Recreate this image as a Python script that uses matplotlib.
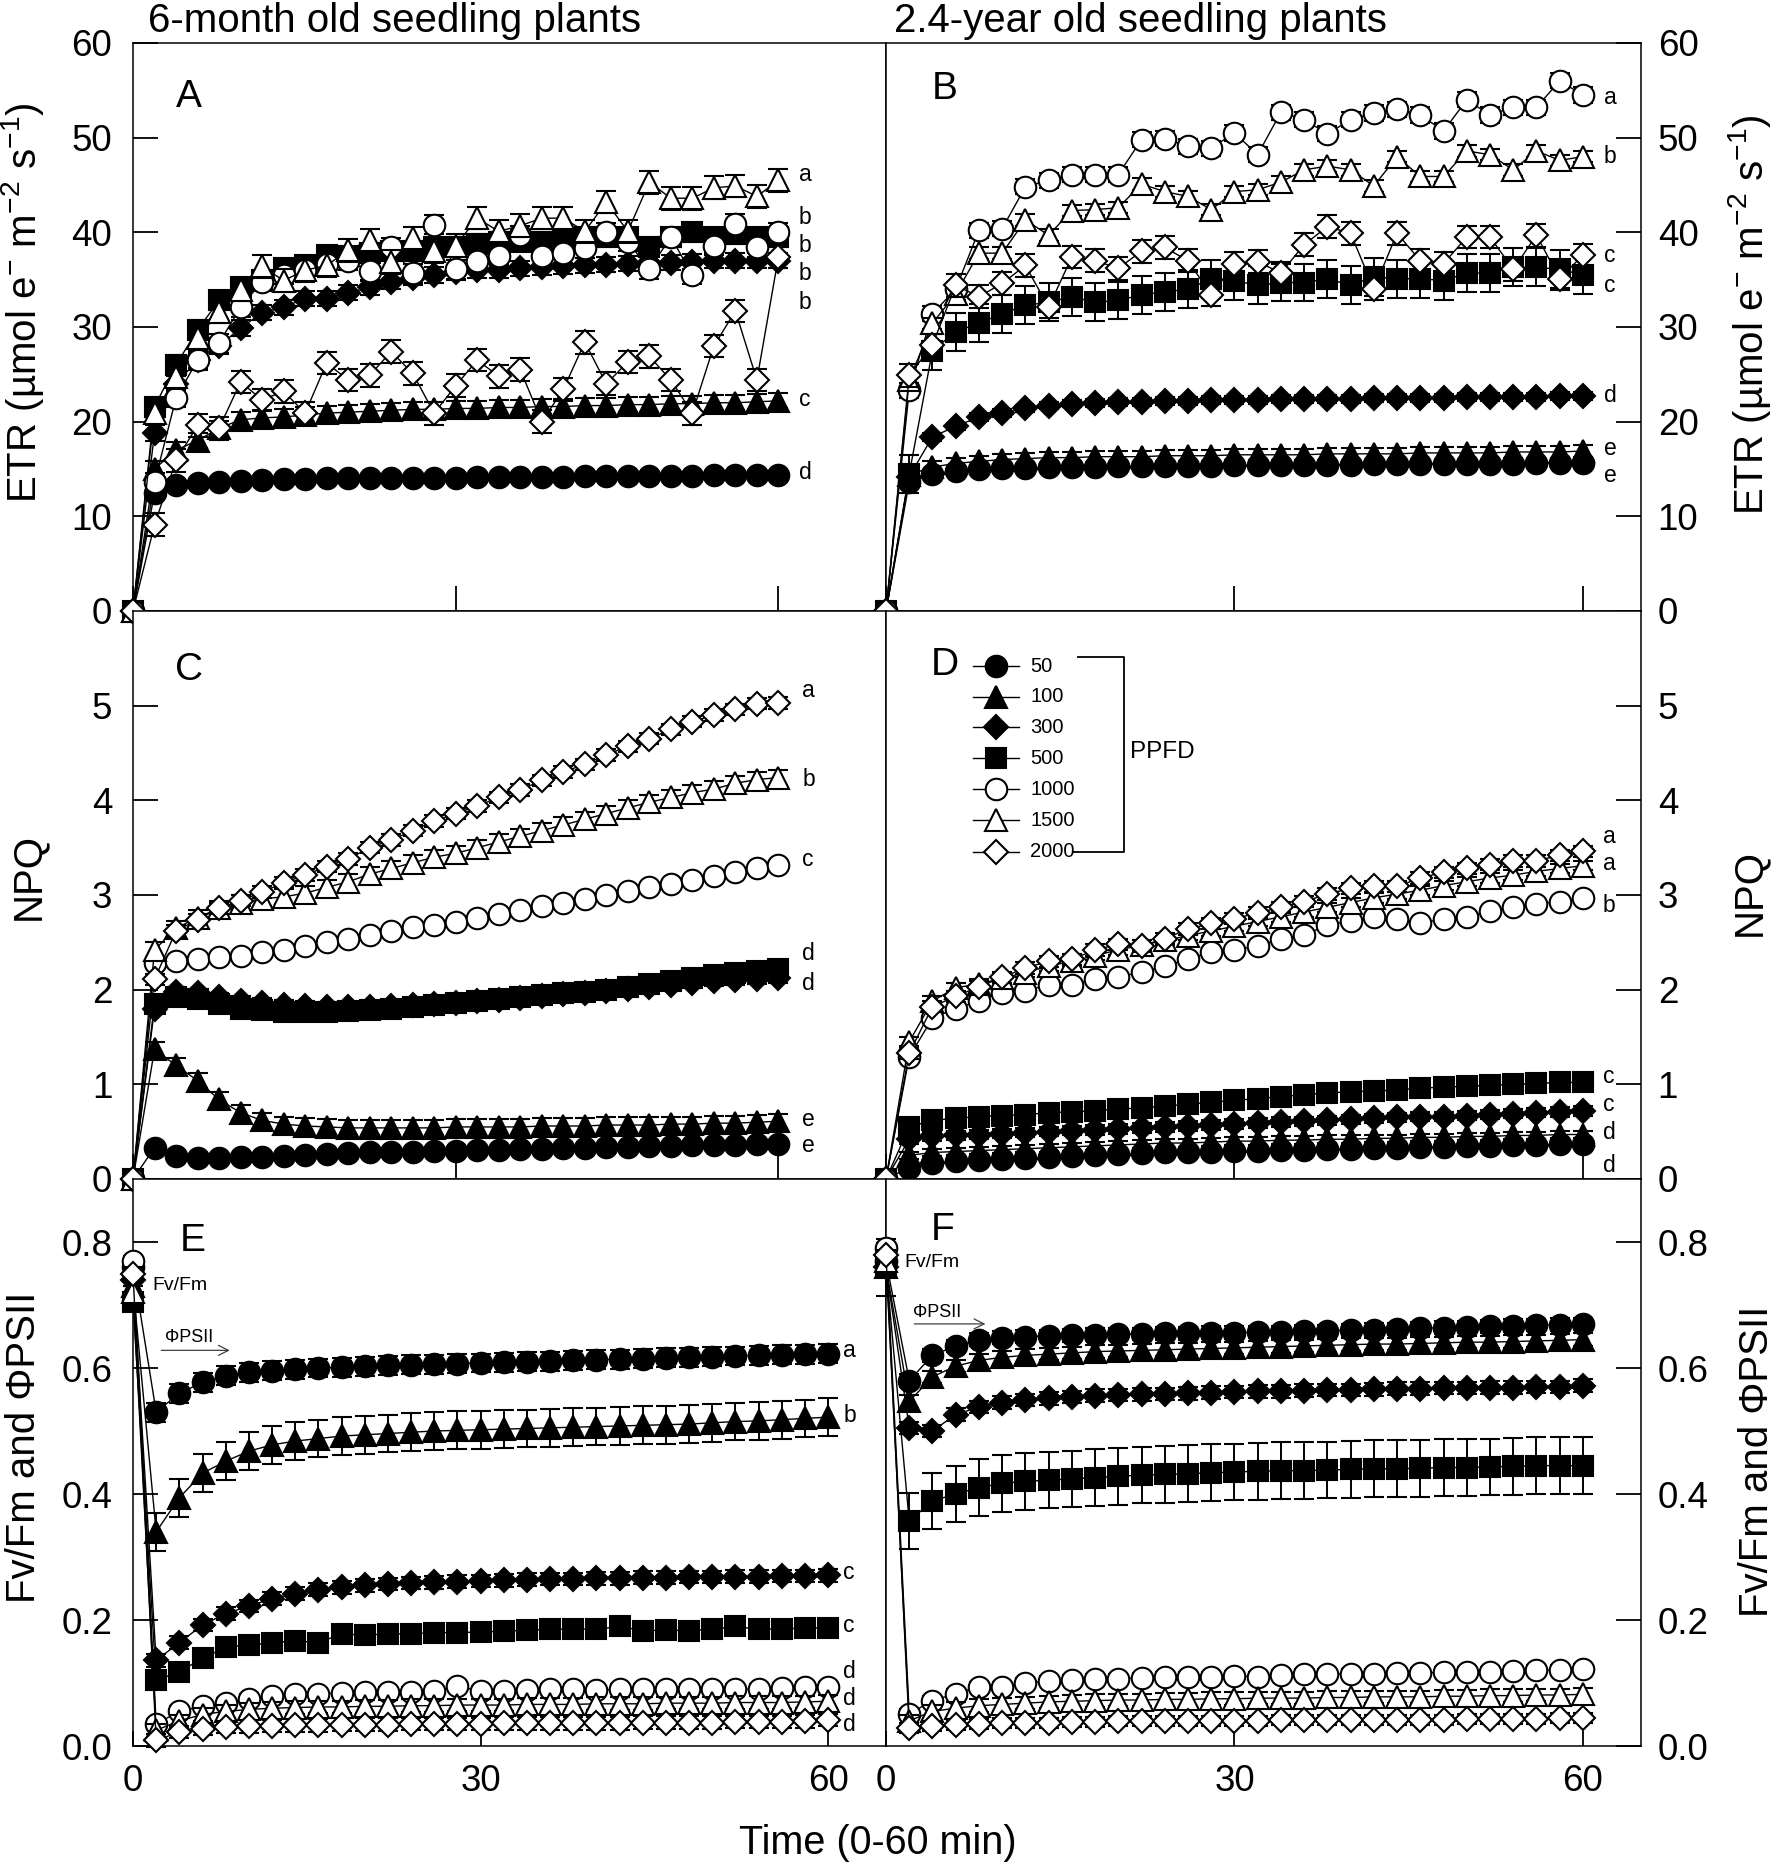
import matplotlib
matplotlib.use('Agg')
import matplotlib.pyplot as plt
import numpy as np
from matplotlib.ticker import FormatStrFormatter

plt.rcParams['font.family'] = ['Liberation Sans', 'DejaVu Sans']
plt.rcParams['mathtext.fontset'] = 'custom'
plt.rcParams['mathtext.rm'] = 'Liberation Sans'
plt.rcParams['mathtext.it'] = 'Liberation Sans:italic'

# ---------------- data ----------------
TIME = [0, 2, 4, 6, 8, 10, 12, 14, 16, 18, 20, 22, 24, 26, 28, 30,
        32, 34, 36, 38, 40, 42, 44, 46, 48, 50, 52, 54, 56, 58, 60]
PPFD = ['50', '100', '300', '500', '1000', '1500', '2000']

# Panel A: ETR, 6-month old seedlings
A_50 = [0, 12.5, 13.3, 13.5, 13.6, 13.7, 13.8, 13.9, 13.9, 14.0, 14.0, 14.0, 14.1, 14.1, 14.1, 14.1, 14.2, 14.2, 14.2, 14.2, 14.2, 14.3, 14.3, 14.3, 14.3, 14.3, 14.3, 14.4, 14.4, 14.4, 14.4]
A_100 = [0, 15.0, 17.0, 18.0, 19.3, 20.2, 20.4, 20.5, 20.7, 20.9, 21.0, 21.1, 21.2, 21.3, 21.3, 21.4, 21.4, 21.5, 21.5, 21.6, 21.6, 21.7, 21.7, 21.8, 21.8, 21.9, 21.9, 22.0, 22.0, 22.1, 22.2]
A_300 = [0, 18.8, 24.0, 26.5, 28.0, 29.9, 31.5, 32.1, 33.0, 33.0, 33.6, 34.2, 34.8, 35.2, 35.5, 35.8, 36.0, 36.0, 36.2, 36.3, 36.4, 36.5, 36.6, 36.7, 36.8, 36.8, 36.9, 37.0, 37.0, 37.0, 37.0]
A_500 = [0, 21.6, 26.0, 29.7, 32.8, 34.2, 35.0, 36.2, 36.5, 37.6, 37.5, 37.8, 38.0, 38.0, 38.5, 38.5, 38.8, 39.0, 39.0, 39.0, 39.3, 39.5, 39.5, 39.5, 38.5, 39.5, 40.0, 39.5, 39.8, 39.5, 39.5]
A_1000 = [0, 13.6, 22.5, 26.5, 28.3, 32.1, 34.8, 35.5, 36.0, 36.7, 37.0, 35.9, 38.4, 35.7, 40.8, 36.1, 37.0, 37.5, 39.7, 37.5, 37.8, 38.3, 40.0, 39.0, 36.1, 39.5, 35.5, 38.6, 40.9, 38.4, 40.0]
A_1500 = [0, 20.9, 24.7, 28.8, 31.6, 33.9, 36.4, 34.9, 36.0, 36.5, 38.1, 39.2, 36.9, 39.4, 38.0, 38.6, 41.5, 40.1, 40.7, 41.5, 41.5, 40.1, 43.2, 40.1, 45.3, 43.6, 43.6, 44.7, 44.9, 43.8, 45.5]
A_2000 = [0, 9.1, 15.9, 19.6, 19.3, 24.2, 22.3, 23.2, 20.9, 26.2, 24.4, 24.9, 27.4, 25.1, 20.9, 23.8, 26.5, 24.8, 25.5, 20.0, 23.4, 28.4, 24.0, 26.3, 26.9, 24.4, 20.9, 28.0, 31.7, 24.4, 37.4]
ERR_A = [0.3, 0.8, 0.8, 1.0, 1.0, 1.2, 1.2]
LET_A = ['a', 'b', 'b', 'b', 'b', 'c', 'd']
LET_A_Y = [46.1, 41.6, 38.6, 35.6, 32.6, 22.3, 14.6]

# Panel B: ETR, 2.4-year old seedlings
B_50 = [0, 13.6, 14.5, 14.8, 15.0, 15.1, 15.1, 15.2, 15.2, 15.2, 15.3, 15.3, 15.3, 15.3, 15.3, 15.4, 15.4, 15.4, 15.4, 15.4, 15.4, 15.5, 15.5, 15.5, 15.5, 15.5, 15.5, 15.5, 15.6, 15.6, 15.6]
B_100 = [0, 14.4, 15.2, 15.6, 15.8, 16.0, 16.1, 16.2, 16.2, 16.3, 16.3, 16.3, 16.4, 16.4, 16.4, 16.5, 16.5, 16.5, 16.5, 16.6, 16.6, 16.6, 16.6, 16.7, 16.7, 16.7, 16.7, 16.8, 16.8, 16.8, 16.9]
B_300 = [0, 14.2, 18.4, 19.5, 20.5, 20.9, 21.4, 21.7, 21.9, 22.0, 22.1, 22.1, 22.2, 22.2, 22.3, 22.3, 22.3, 22.4, 22.4, 22.4, 22.4, 22.5, 22.5, 22.5, 22.5, 22.6, 22.6, 22.6, 22.6, 22.7, 22.7]
B_500 = [0, 14.5, 27.5, 29.5, 30.4, 31.4, 32.3, 32.6, 33.2, 32.6, 32.8, 33.4, 33.7, 34.0, 35.1, 34.9, 34.4, 34.7, 34.7, 35.1, 34.4, 35.3, 35.1, 35.1, 34.9, 35.7, 35.7, 36.3, 36.3, 36.1, 35.5]
B_1000 = [0, 23.3, 31.4, 34.0, 40.2, 40.4, 44.8, 45.5, 46.1, 46.1, 46.1, 49.8, 49.9, 49.1, 48.9, 50.5, 48.2, 52.7, 51.9, 50.4, 51.9, 52.6, 53.0, 52.4, 50.7, 54.0, 52.4, 53.2, 53.2, 56.0, 54.5]
B_1500 = [0, 24.4, 30.4, 33.5, 37.8, 37.8, 41.3, 39.7, 42.3, 42.4, 42.6, 45.1, 44.3, 43.8, 42.4, 44.3, 44.5, 45.3, 46.6, 47.0, 46.6, 44.9, 48.0, 45.9, 45.9, 48.6, 48.2, 46.6, 48.6, 47.6, 48.0]
B_2000 = [0, 24.9, 28.1, 34.4, 33.2, 34.6, 36.5, 32.1, 37.4, 37.0, 36.2, 38.0, 38.4, 37.0, 33.4, 36.7, 36.9, 35.7, 38.7, 40.6, 39.9, 34.0, 39.9, 37.0, 36.7, 39.5, 39.5, 36.1, 39.7, 35.1, 37.6]
ERR_B = [0.4, 0.6, 0.4, 2.0, 0.8, 0.6, 1.2]
LET_B = ['a', 'b', 'c', 'c', 'd', 'e', 'e']
LET_B_Y = [54.2, 48.0, 37.6, 34.4, 22.8, 17.2, 14.3]

# Panel C: NPQ, 6-month old seedlings
C_50 = [0, 0.33, 0.24, 0.22, 0.22, 0.23, 0.23, 0.24, 0.25, 0.26, 0.27, 0.28, 0.28, 0.29, 0.30, 0.30, 0.31, 0.31, 0.32, 0.32, 0.33, 0.33, 0.34, 0.34, 0.35, 0.35, 0.36, 0.36, 0.36, 0.37, 0.37]
C_100 = [0, 1.37, 1.20, 1.04, 0.84, 0.70, 0.62, 0.58, 0.56, 0.55, 0.54, 0.54, 0.54, 0.54, 0.54, 0.55, 0.55, 0.55, 0.55, 0.56, 0.56, 0.56, 0.57, 0.57, 0.57, 0.58, 0.58, 0.59, 0.59, 0.60, 0.61]
C_300 = [0, 1.80, 1.98, 1.96, 1.92, 1.88, 1.86, 1.84, 1.83, 1.82, 1.82, 1.82, 1.83, 1.84, 1.85, 1.86, 1.88, 1.89, 1.91, 1.93, 1.95, 1.97, 1.99, 2.01, 2.03, 2.05, 2.07, 2.09, 2.10, 2.11, 2.12]
C_500 = [0, 1.85, 1.92, 1.90, 1.85, 1.80, 1.78, 1.76, 1.76, 1.76, 1.77, 1.78, 1.80, 1.82, 1.84, 1.86, 1.88, 1.90, 1.92, 1.94, 1.96, 1.98, 2.00, 2.03, 2.06, 2.09, 2.12, 2.15, 2.18, 2.20, 2.22]
C_1000 = [0, 2.28, 2.30, 2.32, 2.34, 2.36, 2.40, 2.42, 2.46, 2.50, 2.54, 2.58, 2.62, 2.66, 2.68, 2.72, 2.76, 2.80, 2.84, 2.88, 2.92, 2.96, 3.00, 3.04, 3.08, 3.12, 3.16, 3.20, 3.24, 3.28, 3.32]
C_1500 = [0, 2.42, 2.65, 2.76, 2.86, 2.92, 2.96, 2.98, 3.02, 3.08, 3.14, 3.22, 3.28, 3.34, 3.40, 3.44, 3.50, 3.56, 3.62, 3.68, 3.74, 3.80, 3.86, 3.92, 3.98, 4.03, 4.08, 4.12, 4.18, 4.22, 4.24]
C_2000 = [0, 2.11, 2.62, 2.74, 2.86, 2.94, 3.03, 3.13, 3.21, 3.30, 3.38, 3.50, 3.58, 3.68, 3.78, 3.86, 3.94, 4.03, 4.11, 4.21, 4.30, 4.38, 4.48, 4.57, 4.65, 4.75, 4.83, 4.90, 4.96, 5.02, 5.03]
ERR_C = [0.02, 0.08, 0.05, 0.06, 0.03, 0.08, 0.06]
LET_C = ['a', 'b', 'c', 'd', 'd', 'e', 'e']
LET_C_Y = [5.16, 4.22, 3.38, 2.38, 2.07, 0.63, 0.35]

# Panel D: NPQ, 2.4-year old seedlings
D_50 = [0, 0.12, 0.17, 0.19, 0.20, 0.21, 0.22, 0.23, 0.24, 0.25, 0.26, 0.27, 0.28, 0.28, 0.29, 0.30, 0.30, 0.31, 0.31, 0.32, 0.32, 0.33, 0.33, 0.34, 0.34, 0.35, 0.35, 0.36, 0.36, 0.37, 0.37]
D_100 = [0, 0.25, 0.28, 0.29, 0.30, 0.31, 0.32, 0.33, 0.34, 0.35, 0.36, 0.37, 0.38, 0.38, 0.39, 0.40, 0.40, 0.41, 0.41, 0.42, 0.42, 0.43, 0.43, 0.44, 0.44, 0.45, 0.45, 0.46, 0.46, 0.47, 0.47]
D_300 = [0, 0.42, 0.45, 0.46, 0.47, 0.48, 0.49, 0.50, 0.51, 0.52, 0.53, 0.54, 0.55, 0.56, 0.57, 0.58, 0.59, 0.60, 0.61, 0.62, 0.63, 0.64, 0.65, 0.66, 0.66, 0.67, 0.68, 0.69, 0.70, 0.71, 0.72]
D_500 = [0, 0.55, 0.62, 0.64, 0.66, 0.67, 0.68, 0.70, 0.71, 0.72, 0.74, 0.75, 0.77, 0.79, 0.81, 0.83, 0.85, 0.87, 0.89, 0.91, 0.92, 0.93, 0.94, 0.96, 0.97, 0.98, 0.99, 1.00, 1.01, 1.02, 1.02]
D_1000 = [0, 1.29, 1.70, 1.80, 1.88, 1.97, 1.99, 2.05, 2.05, 2.11, 2.13, 2.19, 2.25, 2.32, 2.40, 2.42, 2.46, 2.54, 2.58, 2.68, 2.73, 2.77, 2.75, 2.70, 2.75, 2.77, 2.83, 2.87, 2.91, 2.93, 2.97]
D_1500 = [0, 1.45, 1.88, 2.02, 2.06, 2.12, 2.18, 2.25, 2.30, 2.36, 2.42, 2.47, 2.52, 2.57, 2.62, 2.67, 2.72, 2.77, 2.82, 2.87, 2.92, 2.97, 3.01, 3.05, 3.10, 3.14, 3.18, 3.21, 3.25, 3.28, 3.31]
D_2000 = [0, 1.33, 1.82, 1.93, 2.03, 2.13, 2.23, 2.30, 2.32, 2.42, 2.48, 2.46, 2.54, 2.64, 2.70, 2.75, 2.81, 2.87, 2.93, 3.01, 3.07, 3.09, 3.09, 3.18, 3.24, 3.28, 3.32, 3.36, 3.36, 3.42, 3.46]
ERR_D = [0.03, 0.04, 0.05, 0.07, 0.03, 0.05, 0.06]
LET_D = ['a', 'a', 'b', 'c', 'c', 'd', 'd']
LET_D_Y = [3.62, 3.33, 2.89, 1.08, 0.79, 0.49, 0.14]

# Panel E: Fv/Fm (t=0) and PhiPSII, 6-month old seedlings
E_50 = [0.76, 0.53, 0.56, 0.577, 0.588, 0.593, 0.596, 0.598, 0.600, 0.601, 0.603, 0.604, 0.605, 0.606, 0.607, 0.608, 0.609, 0.610, 0.611, 0.612, 0.613, 0.614, 0.615, 0.616, 0.617, 0.618, 0.619, 0.620, 0.621, 0.622, 0.623]
E_100 = [0.73, 0.34, 0.394, 0.433, 0.452, 0.468, 0.478, 0.484, 0.488, 0.492, 0.494, 0.496, 0.498, 0.500, 0.501, 0.502, 0.503, 0.504, 0.505, 0.506, 0.507, 0.508, 0.509, 0.510, 0.511, 0.513, 0.515, 0.516, 0.518, 0.520, 0.522]
E_300 = [0.74, 0.136, 0.164, 0.192, 0.210, 0.222, 0.234, 0.242, 0.248, 0.252, 0.255, 0.257, 0.259, 0.260, 0.261, 0.262, 0.263, 0.264, 0.265, 0.265, 0.266, 0.266, 0.267, 0.267, 0.268, 0.268, 0.269, 0.269, 0.270, 0.270, 0.271]
E_500 = [0.705, 0.104, 0.118, 0.139, 0.157, 0.160, 0.164, 0.167, 0.164, 0.178, 0.176, 0.178, 0.178, 0.180, 0.180, 0.181, 0.182, 0.184, 0.185, 0.186, 0.185, 0.190, 0.183, 0.184, 0.183, 0.185, 0.190, 0.185, 0.186, 0.187, 0.188]
E_1000 = [0.77, 0.035, 0.055, 0.063, 0.068, 0.075, 0.080, 0.082, 0.083, 0.084, 0.085, 0.086, 0.086, 0.087, 0.095, 0.087, 0.088, 0.089, 0.090, 0.090, 0.089, 0.090, 0.091, 0.091, 0.090, 0.091, 0.090, 0.091, 0.092, 0.093, 0.093]
E_1500 = [0.72, 0.025, 0.040, 0.050, 0.055, 0.058, 0.060, 0.061, 0.062, 0.062, 0.063, 0.063, 0.064, 0.064, 0.065, 0.065, 0.065, 0.066, 0.066, 0.066, 0.067, 0.067, 0.067, 0.068, 0.068, 0.068, 0.069, 0.069, 0.069, 0.070, 0.071]
E_2000 = [0.75, 0.009, 0.022, 0.027, 0.030, 0.031, 0.032, 0.033, 0.033, 0.034, 0.034, 0.034, 0.035, 0.035, 0.035, 0.035, 0.036, 0.036, 0.036, 0.036, 0.036, 0.036, 0.037, 0.037, 0.037, 0.037, 0.038, 0.038, 0.038, 0.039, 0.041]
ERR_E = [0.015, 0.03, 0.01, 0.01, 0.008, 0.01, 0.01]
LET_E = ['a', 'b', 'c', 'c', 'd', 'd', 'd']
LET_E_Y = [0.628, 0.524, 0.276, 0.192, 0.118, 0.076, 0.034]

# Panel F: Fv/Fm (t=0) and PhiPSII, 2.4-year old seedlings
F_50 = [0.77, 0.58, 0.62, 0.635, 0.645, 0.648, 0.650, 0.651, 0.652, 0.653, 0.654, 0.654, 0.655, 0.655, 0.656, 0.656, 0.657, 0.657, 0.658, 0.659, 0.660, 0.661, 0.662, 0.663, 0.664, 0.665, 0.666, 0.667, 0.668, 0.669, 0.670]
F_100 = [0.76, 0.547, 0.586, 0.603, 0.612, 0.617, 0.620, 0.622, 0.624, 0.626, 0.627, 0.628, 0.629, 0.630, 0.631, 0.632, 0.633, 0.634, 0.635, 0.636, 0.637, 0.638, 0.638, 0.639, 0.640, 0.641, 0.641, 0.642, 0.643, 0.644, 0.645]
F_300 = [0.76, 0.505, 0.500, 0.526, 0.538, 0.545, 0.549, 0.552, 0.554, 0.556, 0.557, 0.558, 0.559, 0.560, 0.561, 0.562, 0.563, 0.563, 0.564, 0.565, 0.565, 0.566, 0.567, 0.567, 0.568, 0.568, 0.569, 0.569, 0.570, 0.570, 0.572]
F_500 = [0.76, 0.357, 0.389, 0.400, 0.410, 0.417, 0.420, 0.422, 0.424, 0.426, 0.428, 0.430, 0.431, 0.432, 0.434, 0.435, 0.436, 0.437, 0.437, 0.438, 0.439, 0.440, 0.440, 0.441, 0.442, 0.442, 0.443, 0.444, 0.445, 0.445, 0.445]
F_1000 = [0.79, 0.051, 0.072, 0.083, 0.094, 0.094, 0.100, 0.103, 0.105, 0.106, 0.107, 0.108, 0.109, 0.110, 0.110, 0.111, 0.110, 0.113, 0.114, 0.114, 0.115, 0.115, 0.116, 0.116, 0.117, 0.118, 0.118, 0.119, 0.120, 0.121, 0.122]
F_1500 = [0.77, 0.040, 0.055, 0.060, 0.064, 0.066, 0.068, 0.070, 0.071, 0.072, 0.073, 0.073, 0.074, 0.074, 0.075, 0.075, 0.076, 0.076, 0.076, 0.077, 0.077, 0.078, 0.078, 0.078, 0.079, 0.079, 0.080, 0.080, 0.081, 0.081, 0.082]
F_2000 = [0.78, 0.028, 0.032, 0.034, 0.035, 0.036, 0.037, 0.037, 0.038, 0.038, 0.039, 0.039, 0.039, 0.040, 0.040, 0.040, 0.040, 0.041, 0.041, 0.041, 0.041, 0.042, 0.042, 0.042, 0.042, 0.043, 0.043, 0.043, 0.043, 0.044, 0.044]
ERR_F = [0.01, 0.01, 0.01, 0.045, 0.008, 0.01, 0.008]

# ---------------- style ----------------
MARKERS = {'50': ('o', 'black', 15.5), '100': ('^', 'black', 16.0),
           '300': ('D', 'black', 12.7), '500': ('s', 'black', 14.5),
           '1000': ('o', 'white', 15.5), '1500': ('^', 'white', 16.0),
           '2000': ('D', 'white', 12.7)}

W, H = 1776, 1866
fig = plt.figure(figsize=(W / 100, H / 100), dpi=100)

LX0, LX1, RX1 = 133, 886, 1641
ROWS = [(43, 611), (611, 1179), (1179, 1746)]


def box(x0, x1, row):
    y0, y1 = row
    return [x0 / W, 1 - y1 / H, (x1 - x0) / W, (y1 - y0) / H]


axA = fig.add_axes(box(LX0, LX1, ROWS[0]))
axB = fig.add_axes(box(LX1, RX1, ROWS[0]))
axC = fig.add_axes(box(LX0, LX1, ROWS[1]))
axD = fig.add_axes(box(LX1, RX1, ROWS[1]))
axE = fig.add_axes(box(LX0, LX1, ROWS[2]))
axF = fig.add_axes(box(LX1, RX1, ROWS[2]))

TICK_FS = 26.5
LAB_FS = 29
LET_FS = 16.5


def draw(ax, series, errs, zero_start=True):
    for i, (name, ys) in enumerate(zip(PPFD, series)):
        m, fc, ms = MARKERS[name]
        err = np.full(len(ys), errs[i])
        if zero_start:
            err[0] = 0.0
        ax.errorbar(TIME, ys, yerr=err, fmt='-', marker=m, ms=ms, mfc=fc,
                    mec='black', mew=1.5, color='black', lw=1.0,
                    ecolor='black', elinewidth=1.4, capsize=7, capthick=2.0,
                    clip_on=False, zorder=3 + i)


def style(ax, side, xlim, ylim, yticks, xlen, xlabels=False, fmt=None):
    ax.set_xlim(*xlim)
    ax.set_ylim(*ylim)
    ax.set_xticks([0, 30, 60])
    ax.set_yticks(yticks)
    for sp in ax.spines.values():
        sp.set_linewidth(1.1)
    ax.tick_params(axis='x', direction='in', length=xlen, width=1.3,
                   top=False, bottom=True, labelbottom=xlabels,
                   labelsize=TICK_FS, pad=13)
    if side == 'left':
        ax.tick_params(axis='y', direction='in', length=18, width=1.3,
                       left=True, right=False, labelleft=True, labelright=False,
                       labelsize=TICK_FS, pad=15)
    else:
        ax.tick_params(axis='y', direction='in', length=18, width=1.3,
                       left=False, right=True, labelleft=False, labelright=True,
                       labelsize=TICK_FS, pad=12)
    if fmt:
        ax.yaxis.set_major_formatter(FormatStrFormatter(fmt))


def letters(ax, x, labels, ys):
    for lab, y in zip(labels, ys):
        ax.text(x, y, lab, fontsize=LET_FS, ha='left', va='center', zorder=20)


draw(axA, [A_50, A_100, A_300, A_500, A_1000, A_1500, A_2000], ERR_A)
draw(axB, [B_50, B_100, B_300, B_500, B_1000, B_1500, B_2000], ERR_B)
draw(axC, [C_50, C_100, C_300, C_500, C_1000, C_1500, C_2000], ERR_C)
draw(axD, [D_50, D_100, D_300, D_500, D_1000, D_1500, D_2000], ERR_D)
draw(axE, [E_50, E_100, E_300, E_500, E_1000, E_1500, E_2000], ERR_E, zero_start=False)
draw(axF, [F_50, F_100, F_300, F_500, F_1000, F_1500, F_2000], ERR_F, zero_start=False)

style(axA, 'left', (0, 70), (0, 60), [0, 10, 20, 30, 40, 50, 60], 18)
style(axB, 'right', (0, 65), (0, 60), [0, 10, 20, 30, 40, 50, 60], 18)
style(axC, 'left', (0, 70), (0, 6), [0, 1, 2, 3, 4, 5], 18)
style(axD, 'right', (0, 65), (0, 6), [0, 1, 2, 3, 4, 5], 18)
style(axE, 'left', (0, 65), (0, 0.9), [0, 0.2, 0.4, 0.6, 0.8], 11, xlabels=True, fmt='%.1f')
style(axF, 'right', (0, 65), (0, 0.9), [0, 0.2, 0.4, 0.6, 0.8], 11, xlabels=True, fmt='%.1f')

letters(axA, 61.9, LET_A, LET_A_Y)
letters(axB, 61.8, LET_B, LET_B_Y)
letters(axC, 62.2, LET_C, LET_C_Y)
letters(axD, 61.7, LET_D, LET_D_Y)
letters(axE, 61.3, LET_E, LET_E_Y)

# panel letters
for ax, lab, x, y in [(axA, 'A', 0.074, 0.905), (axB, 'B', 0.078, 0.919),
                      (axC, 'C', 0.074, 0.896), (axD, 'D', 0.078, 0.905),
                      (axE, 'E', 0.079, 0.89), (axF, 'F', 0.075, 0.91)]:
    ax.text(x, y, lab, transform=ax.transAxes, fontsize=28,
            ha='center', va='center', zorder=20)

# legend in panel D
LEG_Y = [0.903, 0.849, 0.795, 0.741, 0.686, 0.632, 0.576]
for name, y in zip(PPFD, LEG_Y):
    m, fc, ms = MARKERS[name]
    axD.plot([0.115, 0.176], [y, y], transform=axD.transAxes, color='black',
             lw=1.0, clip_on=False, zorder=20)
    axD.plot([0.146], [y], transform=axD.transAxes, marker=m, ms=ms, mfc=fc,
             mec='black', mew=1.5, ls='none', clip_on=False, zorder=21)
    axD.text(0.191, y, name, transform=axD.transAxes, fontsize=14.5,
             ha='left', va='center', zorder=21)
axD.plot([0.254, 0.3146, 0.3146, 0.248], [0.9185, 0.9185, 0.576, 0.576],
         transform=axD.transAxes, color='black', lw=1.3, zorder=20)
axD.text(0.323, 0.752, 'PPFD', transform=axD.transAxes, fontsize=17.5,
         ha='left', va='center', zorder=21)

# Fv/Fm and PhiPSII annotations
axE.text(1.7, 0.731, 'Fv/Fm', fontsize=14, ha='left', va='center', zorder=25)
axE.text(2.75, 0.649, 'ΦPSII', fontsize=13, ha='left', va='center', zorder=25)
axE.annotate('', xy=(8.6, 0.628), xytext=(2.2, 0.628),
             arrowprops=dict(arrowstyle='->', lw=0.9, color='0.25',
                             mutation_scale=18), zorder=25)
axF.text(1.6, 0.767, 'Fv/Fm', fontsize=14, ha='left', va='center', zorder=25)
axF.text(2.3, 0.688, 'ΦPSII', fontsize=13, ha='left', va='center', zorder=25)
axF.annotate('', xy=(8.8, 0.670), xytext=(2.2, 0.670),
             arrowprops=dict(arrowstyle='->', lw=0.9, color='0.25',
                             mutation_scale=18), zorder=25)

# titles
fig.text(148 / W, 1 - 32 / H, '6-month old seedling plants', fontsize=29,
         ha='left', va='baseline')
fig.text(894 / W, 1 - 32 / H, '2.4-year old seedling plants', fontsize=29,
         ha='left', va='baseline')

# axis labels
etr = 'ETR (µmol e$^{\\mathregular{-}}$ m$^{\\mathregular{-2}}$ s$^{\\mathregular{-1}}$)'
fig.text(23 / W, 1 - 303 / H, etr, rotation=90, fontsize=LAB_FS, ha='center', va='center')
fig.text(1749 / W, 1 - 315 / H, etr, rotation=90, fontsize=LAB_FS, ha='center', va='center')
fig.text(28 / W, 1 - 877 / H, 'NPQ', rotation=90, fontsize=LAB_FS, ha='center', va='center')
fig.text(1749 / W, 1 - 892 / H, 'NPQ', rotation=90, fontsize=LAB_FS, ha='center', va='center')
fig.text(24 / W, 1 - 1447 / H, 'Fv/Fm and ΦPSII', rotation=90, fontsize=LAB_FS, ha='center', va='center')
fig.text(1757 / W, 1 - 1461 / H, 'Fv/Fm and ΦPSII', rotation=90, fontsize=LAB_FS, ha='center', va='center')
fig.text(878 / W, 1 - 1843 / H, 'Time (0-60 min)', fontsize=28.5, ha='center', va='center')

fig.savefig('out.png', dpi=100)
